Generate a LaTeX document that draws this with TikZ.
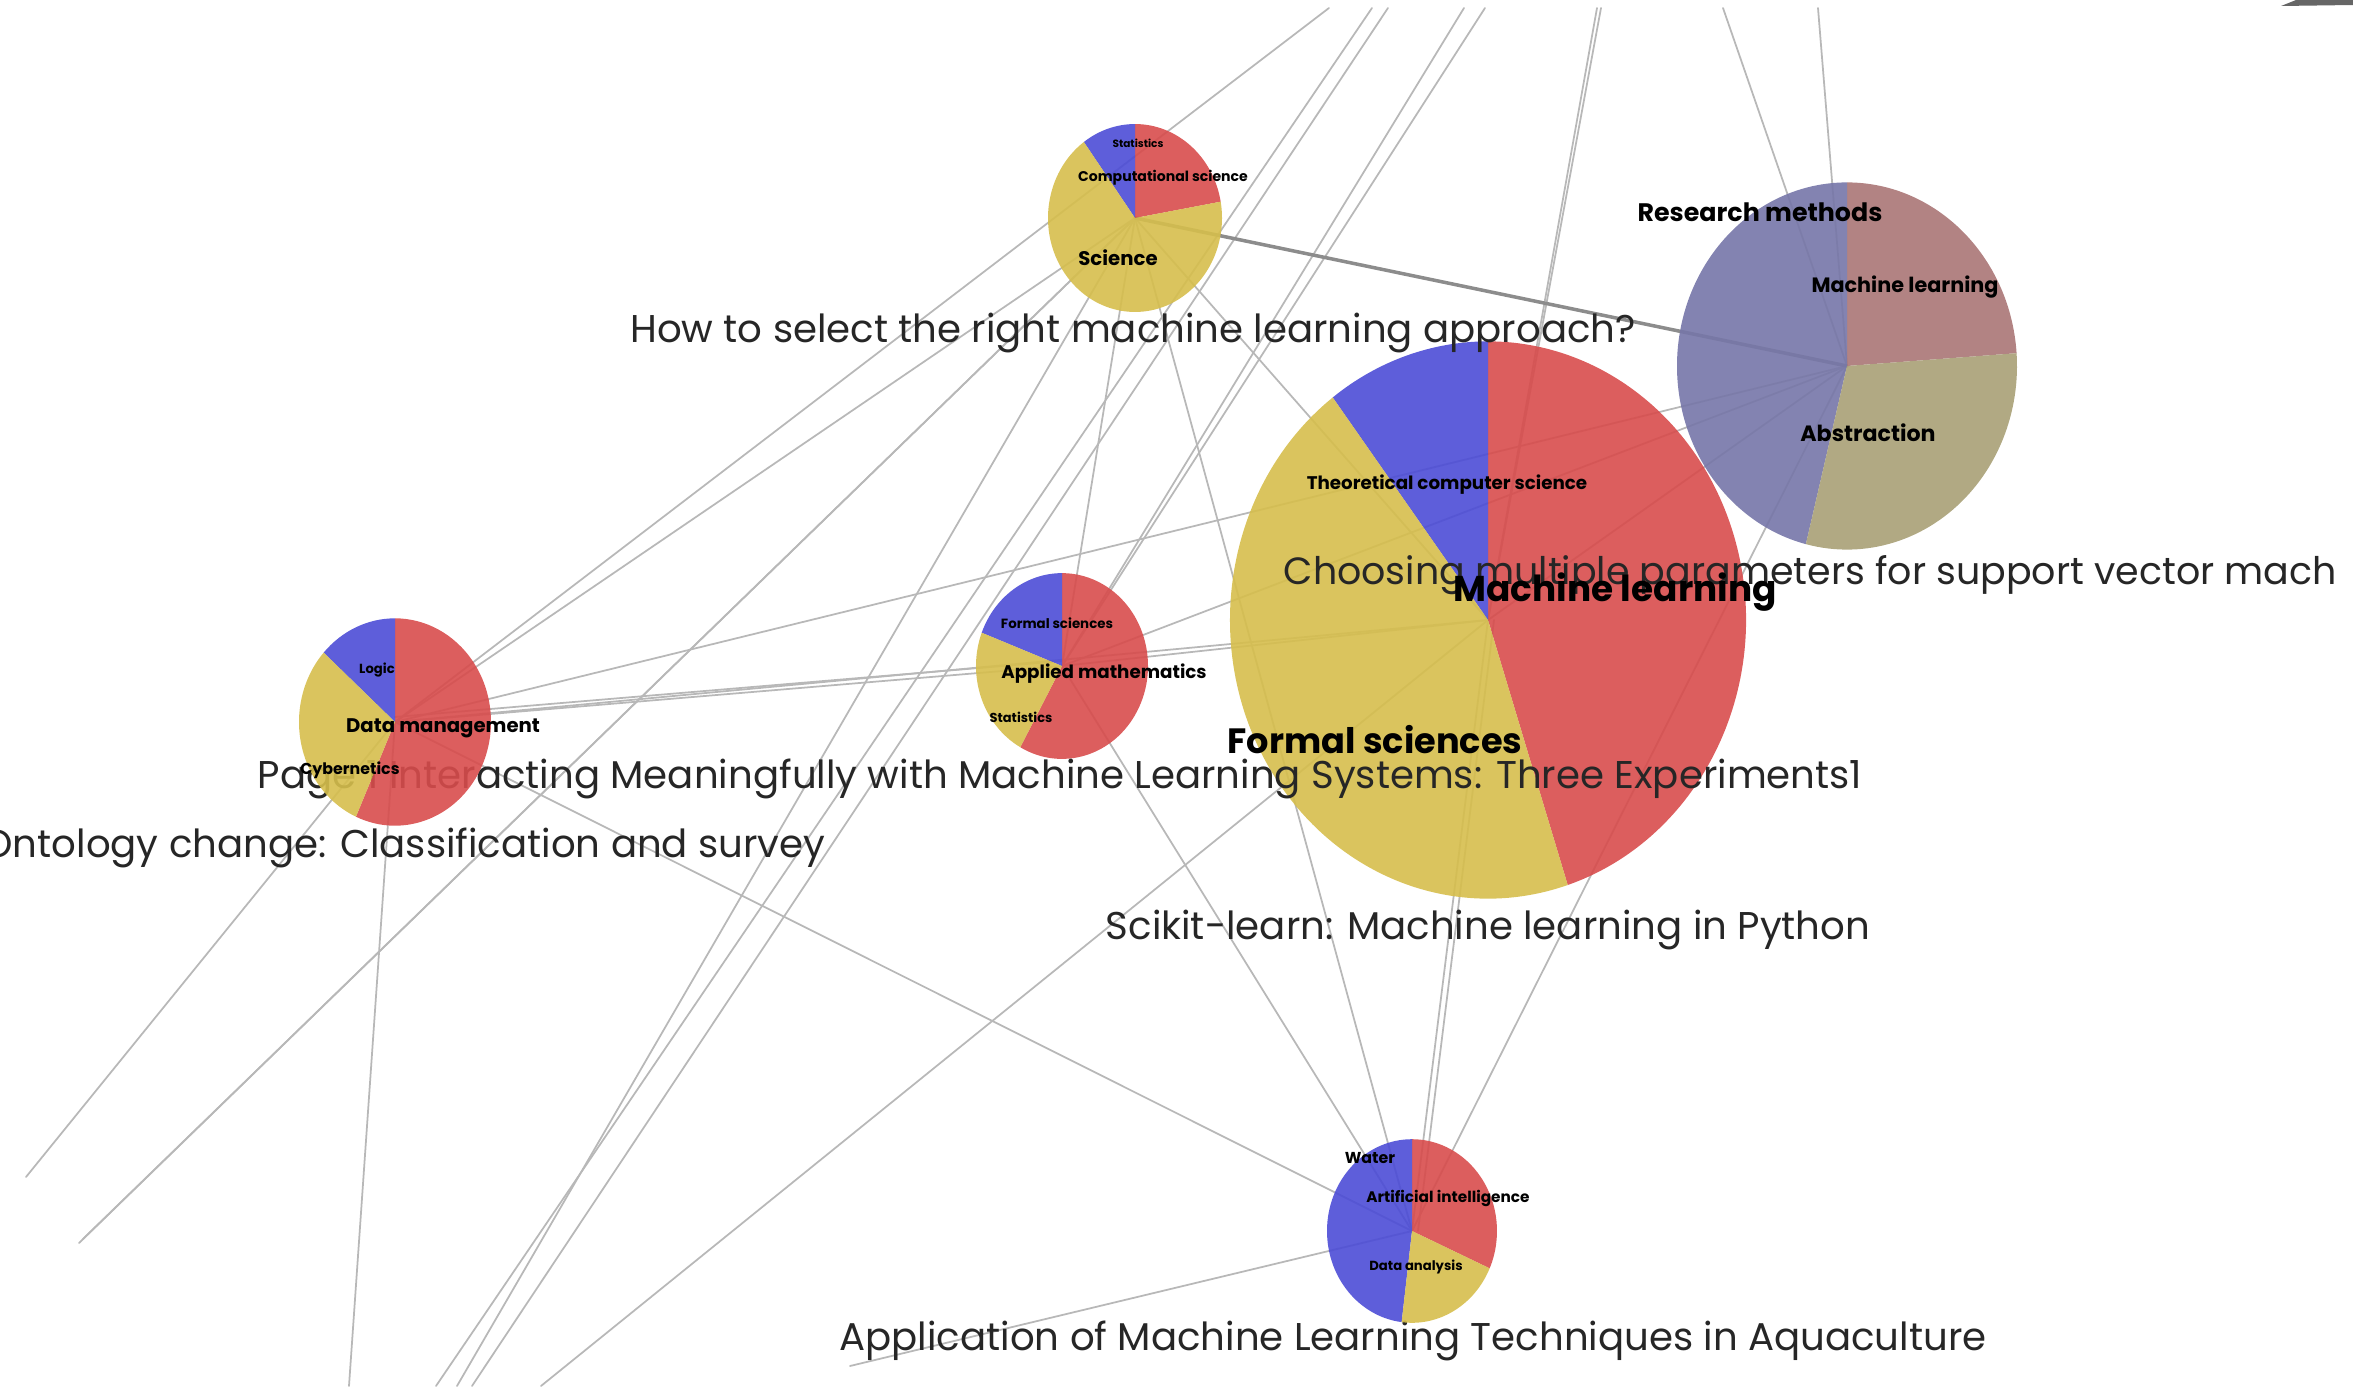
\documentclass[tikz,border=0pt]{standalone}
\usepackage{fontspec}
\setmainfont{Poppins}
\definecolor{pired}{RGB}{216,76,76}
\definecolor{piblue}{RGB}{76,76,214}
\definecolor{piyellow}{RGB}{214,190,76}
\definecolor{rmrose}{RGB}{170,118,118}
\definecolor{rmolive}{RGB}{168,160,118}
\definecolor{rmslate}{RGB}{118,118,168}
\newcommand\fs[1]{\fontsize{#1}{#1}\selectfont}
\newcommand\pie[3]{\foreach \pa/\pb/\pc in {#3}{\fill[fill=\pc,fill opacity=.9,shift={(#1)},yscale=-1.08]
    (0,0)--(\pa:#2) arc[start angle=\pa,end angle=\pb,radius=#2]--cycle;}}
\begin{document}
\begin{tikzpicture}[x=0.01cm,y=-0.01cm,line join=round,line cap=round,
    edge/.style={draw=black!28,line width=0.5pt},
    title/.style={font=\fs{11},text=black!85,inner sep=0},
    lab/.style={font=\bfseries,text=black,inner sep=0}]
	\clip(0,0)rectangle(2353,1394);
	\fill[black!60](2281,6)--(2296,0)--(2353,0)--(2353,5)--cycle;
	\coordinate(sci)at(1135,218);
	\coordinate(rm)at(1847,366);
	\coordinate(ml)at(1488,620);
	\coordinate(am)at(1062,666);
	\coordinate(dm)at(395,722);
	\coordinate(aq)at(1412,1231);
	\foreach \n/\x in {1/1329,2/1372,3/1380,4/1388,5/1464,6/1485,7/1597,8/1601,9/1723,10/1818}
		\coordinate(t\n)at(\x,8);
	\foreach \n/\x in {1/349,2/436,3/457,4/472,5/541}
		\coordinate(b\n)at(\x,1386);
	\coordinate(l1)at(26,1177);
	\coordinate(l2)at(79,1243);
	\coordinate(l3)at(83,1239);
	\coordinate(q1)at(850,1366);
	\foreach \u/\v in {sci/l2,sci/l3,sci/dm,sci/am,sci/aq,sci/ml,sci/b3,
		dm/t1,dm/am,dm/ml,dm/aq,dm/b1,dm/l1,dm/rm,
		am/t5,am/t6,am/aq,am/ml,am/rm,
		ml/t7,ml/t8,ml/aq,ml/b5,ml/rm,
		rm/t9,rm/t10,rm/aq,aq/q1,t2/b2,t4/b4}
		\draw[edge](\u)--(\v);
	\draw[edge]([yshift=0.05cm]dm)--([yshift=0.05cm]am);
	\draw[edge]([xshift=0.06cm]ml)--([xshift=0.06cm]aq);
	\draw[edge,draw=black!45,line width=1pt](sci)--(rm);
	% pies and titles
	\pie{ml}{258}{-72/90/pired,90/127/piblue,127/288/piyellow}
	\pie{rm}{170}{4/90/rmrose,90/256/rmslate,256/364/rmolive}
	\pie{sci}{87}{10/90/pired,90/126/piblue,126/370/piyellow}
	\pie{am}{86}{-119/90/pired,90/159/piblue,159/241/piyellow}
	\node[title](tsci)at(1133,333){How to select the right machine learning approach?};
	\node[title,font=\fs{10.8},anchor=west](trm)at(1283,575){Choosing multiple parameters for support vector mach};
	\node[title](tam)at(1060,779){Page 1 Interacting Meaningfully with Machine Learning Systems: Three Experiments1};
	\node[title](tml)at(1488,930){Scikit-learn: Machine learning in Python};
	\node[title](taq)at(1413,1341){Application of Machine Learning Techniques in Aquaculture};
	\node[title,anchor=east](tdm)at(826,848){Ontology change: Classification and survey};
	\pie{dm}{96}{-114/90/pired,90/138/piblue,138/246/piyellow}
	\pie{aq}{85}{-24/90/pired,90/263/piblue,263/336/piyellow}
	% slice labels
	\node[lab,font=\bfseries\fs{3}](sci1)at(1138,143){Statistics};
	\node[lab,font=\bfseries\fs{4}](sci2)at(1163,178){Computational science};
	\node[lab,font=\bfseries\fs{5.6}](sci3)at(1118,258){Science};
	\node[lab,font=\bfseries\fs{7.2}](rm1)at(1760,212){Research methods};
	\node[lab,font=\bfseries\fs{5.9}](rm2)at(1905,287){Machine learning};
	\node[lab,font=\bfseries\fs{6.3}](rm3)at(1868,433){Abstraction};
	\node[lab,font=\bfseries\fs{5.2}](ml1)at(1447,485){Theoretical computer science};
	\node[lab,font=\bfseries\fs{10.2}](ml2)at(1615,592){Machine learning};
	\node[lab,font=\bfseries\fs{10}](ml3)at(1375,740){Formal sciences};
	\node[lab,font=\bfseries\fs{3.8}](am1)at(1057,623){Formal sciences};
	\node[lab,font=\bfseries\fs{5.2}](am2)at(1104,674){Applied mathematics};
	\node[lab,font=\bfseries\fs{3.7}](am3)at(1021,717){Statistics};
	\node[lab,font=\bfseries\fs{3.75}](dm1)at(377,670){Logic};
	\node[lab,font=\bfseries\fs{5.6}](dm2)at(443,728){Data management};
	\node[lab,font=\bfseries\fs{4.5}](dm3)at(350,770){Cybernetics};
	\node[lab,font=\bfseries\fs{4.5}](aq1)at(1370,1158){Water};
	\node[lab,font=\bfseries\fs{4.35}](aq2)at(1448,1198){Artificial intelligence};
	\node[lab,font=\bfseries\fs{3.75}](aq3)at(1416,1267){Data analysis};
\end{tikzpicture}
\end{document}
